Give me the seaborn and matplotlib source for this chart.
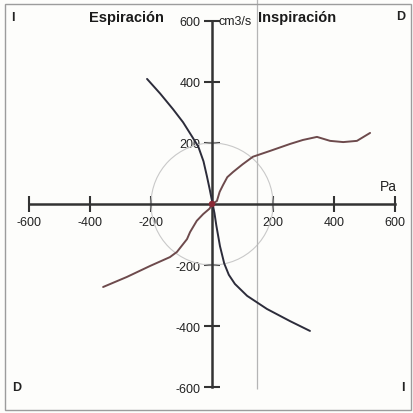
import numpy as np
import pandas as pd
import matplotlib
matplotlib.use("Agg")
import matplotlib.pyplot as plt
from matplotlib.patches import Circle, Rectangle
import seaborn as sns

# ---- data ----
exp_x = [-213, -170, -128, -95, -66, -45, -28, -17, -8, 0, 8, 14, 26, 40, 55, 75, 115, 180, 256, 321]
exp_y = [410, 362, 311, 268, 222, 188, 140, 92, 50, 10, -30, -70, -138, -195, -232, -262, -301, -344, -384, -416]

insp_x = [-357, -279, -203, -138, -115, -82, -72, -50, -29, -8, 0, 16, 25, 36, 50, 69, 100, 134, 190, 256, 298, 344, 387, 430, 475, 518]
insp_y = [-272, -239, -203, -174, -157, -115, -92, -55, -33, -15, 0, 10, 40, 62, 88, 105, 130, 155, 174, 197, 210, 220, 207, 203, 207, 233]

x_ticks = [-600, -400, -200, 200, 400, 600]
y_ticks = [-600, -400, -200, 200, 400, 600]
circle_radius = 200
insp_line_x = 148
origin_pt = [0]

sns.set_style("white")
plt.rcParams['font.family'] = ['Liberation Sans', 'DejaVu Sans']

fig = plt.figure(figsize=(4.14, 4.14), dpi=100, facecolor='#fdfdfb')
ax = fig.add_axes([0, 0, 1, 1])
ax.set_facecolor('#fdfdfb')
ax.set_xlim(-695, 662)
ax.set_ylim(-685, 672)

axis_col = '#333333'
for s in ['top', 'right']:
    ax.spines[s].set_visible(False)
ax.spines['left'].set_position(('data', 0))
ax.spines['bottom'].set_position(('data', 0))
ax.spines['left'].set_bounds(-600, 600)
ax.spines['bottom'].set_bounds(-600, 600)
for s in ['left', 'bottom']:
    ax.spines[s].set_color(axis_col)
    ax.spines[s].set_linewidth(1.8)
    ax.spines[s].set_zorder(2)

ax.set_xticks(x_ticks)
ax.set_yticks(y_ticks)
ax.set_xticklabels([str(v) for v in x_ticks])
ax.set_yticklabels([str(v) for v in y_ticks])
ax.tick_params(axis='both', bottom=True, left=True, direction='inout', length=11, width=1.5,
               color=axis_col, labelsize=9, labelcolor='#222222')
ax.tick_params(axis='x', pad=3)
ax.tick_params(axis='y', pad=3)

# reference elements
ax.add_patch(Circle((0, 0), circle_radius, fill=False, edgecolor='#c9c9c9', lw=0.8, zorder=1))
ax.vlines(insp_line_x, -605, 672, color='#b5b5b5', lw=0.9, zorder=1)

# curves
sns.lineplot(x=exp_x, y=exp_y, sort=False, estimator=None, color='#2c2c3a', lw=1.4, ax=ax, zorder=3)
sns.lineplot(x=insp_x, y=insp_y, sort=False, estimator=None, color='#6d4a4c', lw=1.4, ax=ax, zorder=3)
ax.scatter(origin_pt, origin_pt, s=22, color='#8a2a35', zorder=4, edgecolors='none')

# texts
ax.text(-279, 612, 'Espiración', ha='center', va='center', fontsize=10.5, fontweight='bold', color='#1a1a1a')
ax.text(279, 612, 'Inspiración', ha='center', va='center', fontsize=10.5, fontweight='bold', color='#1a1a1a')
ax.text(22, 600, 'cm3/s', ha='left', va='center', fontsize=9, color='#222222')
ax.text(577, 58, 'Pa', ha='center', va='center', fontsize=10, color='#222222')
ax.text(-654, 612, 'I', ha='center', va='center', fontsize=9, fontweight='bold', color='#222222')
ax.text(617, 615, 'D', ha='center', va='center', fontsize=9, fontweight='bold', color='#222222')
ax.text(-640, -600, 'D', ha='center', va='center', fontsize=9, fontweight='bold', color='#222222')
ax.text(624, -600, 'I', ha='center', va='center', fontsize=9, fontweight='bold', color='#222222')

ax.set_xlabel('')
ax.set_ylabel('')

fig.patches.append(Rectangle((5/414, 3/414), 406/414, 406/414, transform=fig.transFigure,
                             fill=False, edgecolor='#9c9c9c', lw=1.0))

fig.savefig('out.png', dpi=100, facecolor=fig.get_facecolor())
